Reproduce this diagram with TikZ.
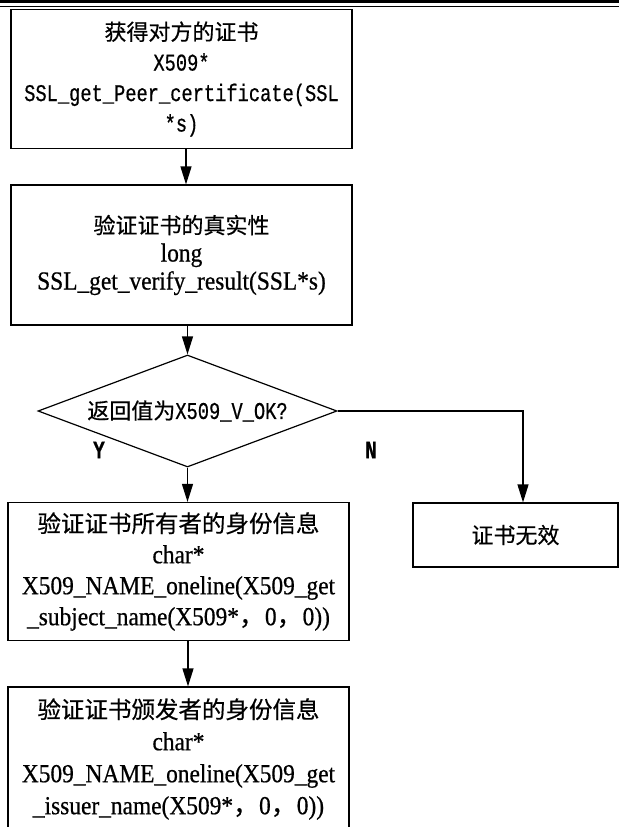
\documentclass[tikz,border=0pt]{standalone}
\usepackage{fontspec}
\setmainfont{Liberation Serif}[FakeStretch=0.9, FakeBold=0.6]
\newfontfamily\cjk{Noto Sans CJK SC}[FakeBold=0.5]
\newfontfamily\monoc{Liberation Mono}[FakeStretch=0.78, FakeBold=0.6]
\usetikzlibrary{arrows.meta,shapes.geometric}
\tikzset{>={Triangle[length=18pt,width=11pt]}}

\begin{document}
\begin{tikzpicture}[x=1pt, y=-1pt, line width=1.2pt,
    box/.style={draw, text width=341pt, align=center, inner sep=0pt},
    decision/.style={draw, diamond, aspect=2.67, minimum width=299pt, minimum height=112pt, inner sep=0pt},
    yn/.style={font=\monoc\bfseries\fontsize{25}{25}\selectfont}]
      \useasboundingbox (0, 0) rectangle (619, 827);
      % page header rule
      \draw[line width=3pt] (0, 1.5) -- (619, 1.5);
      \draw[line width=0.8pt] (0, 6) -- (619, 6);

      \node[box, minimum height=139pt, font=\monoc\fontsize{24}{30.5}\selectfont] (getcert) at (181.5, 79)
        {{\cjk\fontsize{22}{30.5}\selectfont 获得对方的证书}\\X509*\\SSL\_get\_Peer\_certificate(SSL\\{}*s)};
      \node[box, minimum height=140pt, font=\fontsize{26}{28}\selectfont] (verify) at (181.5, 255)
        {{\cjk\fontsize{22}{28}\selectfont 验证证书的真实性}\\long\\SSL\_get\_verify\_result(SSL*s)};
      \node[decision] (check) at (187.5, 411)
        {{\cjk\fontsize{22}{24}\selectfont 返回值为}{\monoc\fontsize{24}{24}\selectfont X509\_V\_OK?}};
      \node[draw, inner sep=0pt, minimum width=205pt, minimum height=64pt] (invalid) at (515.5, 535)
        {\cjk\fontsize{22}{24}\selectfont 证书无效};
      \node[box, minimum height=138pt, font=\fontsize{26}{31}\selectfont] (owner) at (178.5, 571.5)
        {{\cjk\fontsize{23.5}{31}\selectfont 验证证书所有者的身份信息}\\char*\\X509\_NAME\_oneline(X509\_get\\\_subject\_name(X509*{\cjk ，}0{\cjk ，}0))};
      \node[box, minimum height=144pt, font=\fontsize{26}{32}\selectfont] (issuer) at (178.5, 759)
        {{\cjk\fontsize{23.5}{32}\selectfont 验证证书颁发者的身份信息}\\char*\\X509\_NAME\_oneline(X509\_get\\\_issuer\_name(X509*{\cjk ，}0{\cjk ，}0))};

      \node[yn] (ylab) at (99, 450) {Y};
      \node[yn] (nlab) at (371, 450) {N};

      \draw[->] ([xshift=4.5pt]getcert.south) -- ([xshift=4.5pt]verify.north);
      \draw[->] ([xshift=6pt]verify.south) -- (check.north);
      \draw[->] (check.south) -- (check.south |- owner.north);
      \draw[->] (check.east) -| ([xshift=7.5pt]invalid.north);
      \draw[->] ([xshift=9.5pt]owner.south) -- ([xshift=9.5pt]issuer.north);
    \end{tikzpicture}
\end{document}
